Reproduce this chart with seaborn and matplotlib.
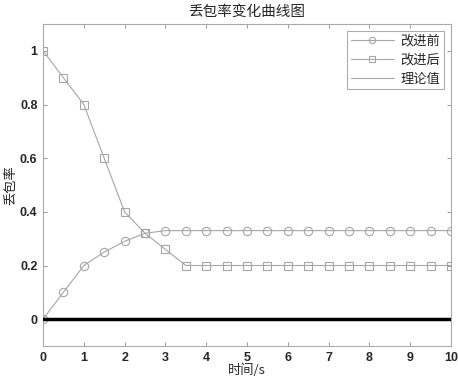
import matplotlib
matplotlib.use("Agg")
import matplotlib.pyplot as plt
import seaborn as sns
import pandas as pd

t = [0, 0.5, 1, 1.5, 2, 2.5, 3, 3.5, 4, 4.5, 5, 5.5, 6, 6.5, 7, 7.5, 8, 8.5, 9, 9.5, 10]
before = [0, 0.1, 0.2, 0.25, 0.29, 0.32, 0.33, 0.33, 0.33, 0.33, 0.33, 0.33, 0.33, 0.33,
          0.33, 0.33, 0.33, 0.33, 0.33, 0.33, 0.33]
after = [1, 0.9, 0.8, 0.6, 0.4, 0.32, 0.26, 0.2, 0.2, 0.2, 0.2, 0.2, 0.2, 0.2,
         0.2, 0.2, 0.2, 0.2, 0.2, 0.2, 0.2]
theory = [0] * len(t)
labels = ["改进前", "改进后", "理论值"]
title = "丢包率变化曲线图"
xlabel = "时间/s"
ylabel = "丢包率"

sns.set_style("ticks")
plt.rcParams['font.family'] = ['Liberation Sans', 'Noto Sans CJK SC', 'DejaVu Sans']
cjk = ['Noto Sans CJK SC', 'DejaVu Sans']

df = pd.DataFrame({"t": t, "before": before, "after": after, "theory": theory})

fig = plt.figure(figsize=(4.58, 3.81), dpi=100)
ax = fig.add_axes([43/458, 1-346/381, (451-43)/458, (346-24)/381])

gray = "#a6a6a6"
sns.lineplot(data=df, x="t", y="before", ax=ax, color=gray, lw=0.8, marker="o",
             markersize=6, markerfacecolor="none", markeredgecolor=gray, markeredgewidth=0.8,
             label=labels[0])
sns.lineplot(data=df, x="t", y="after", ax=ax, color=gray, lw=0.8, marker="s",
             markersize=6, markerfacecolor="none", markeredgecolor=gray, markeredgewidth=0.8,
             label=labels[1])
sns.lineplot(data=df, x="t", y="theory", ax=ax, color=gray, lw=0.8, label=labels[2])
ax.plot(df["t"], df["theory"], color="black", lw=2.5, zorder=5)

ax.set_xlim(0, 10)
ax.set_ylim(-0.1, 1.1)
ax.set_xticks(range(0, 11))
ax.set_yticks([0, 0.2, 0.4, 0.6, 0.8, 1])
ax.set_yticklabels(["0", "0.2", "0.4", "0.6", "0.8", "1"])
ax.tick_params(direction="in", length=3, width=0.6, color="#888888", labelsize=9,
               top=True, right=True, pad=4)
for s in ax.spines.values():
    s.set_color("#aaaaaa")
    s.set_linewidth(0.8)
for lab in ax.get_xticklabels() + ax.get_yticklabels():
    lab.set_fontweight("bold")

ax.set_title(title, fontsize=10.5, family=cjk, pad=6)
ax.set_xlabel(xlabel, fontsize=9.5, family=cjk, labelpad=0)
ax.set_ylabel(ylabel, fontsize=9.5, family=cjk, labelpad=2)

leg = ax.legend(loc="upper right", prop={'family': cjk, 'size': 9.5},
                handlelength=3.3, frameon=True, fancybox=False, borderpad=0.3,
                labelspacing=0.45, handletextpad=0.5, borderaxespad=0.5, markerscale=0.75)
leg.get_frame().set_edgecolor("#999999")
leg.get_frame().set_linewidth(0.8)

fig.savefig("out.png", dpi=100)
